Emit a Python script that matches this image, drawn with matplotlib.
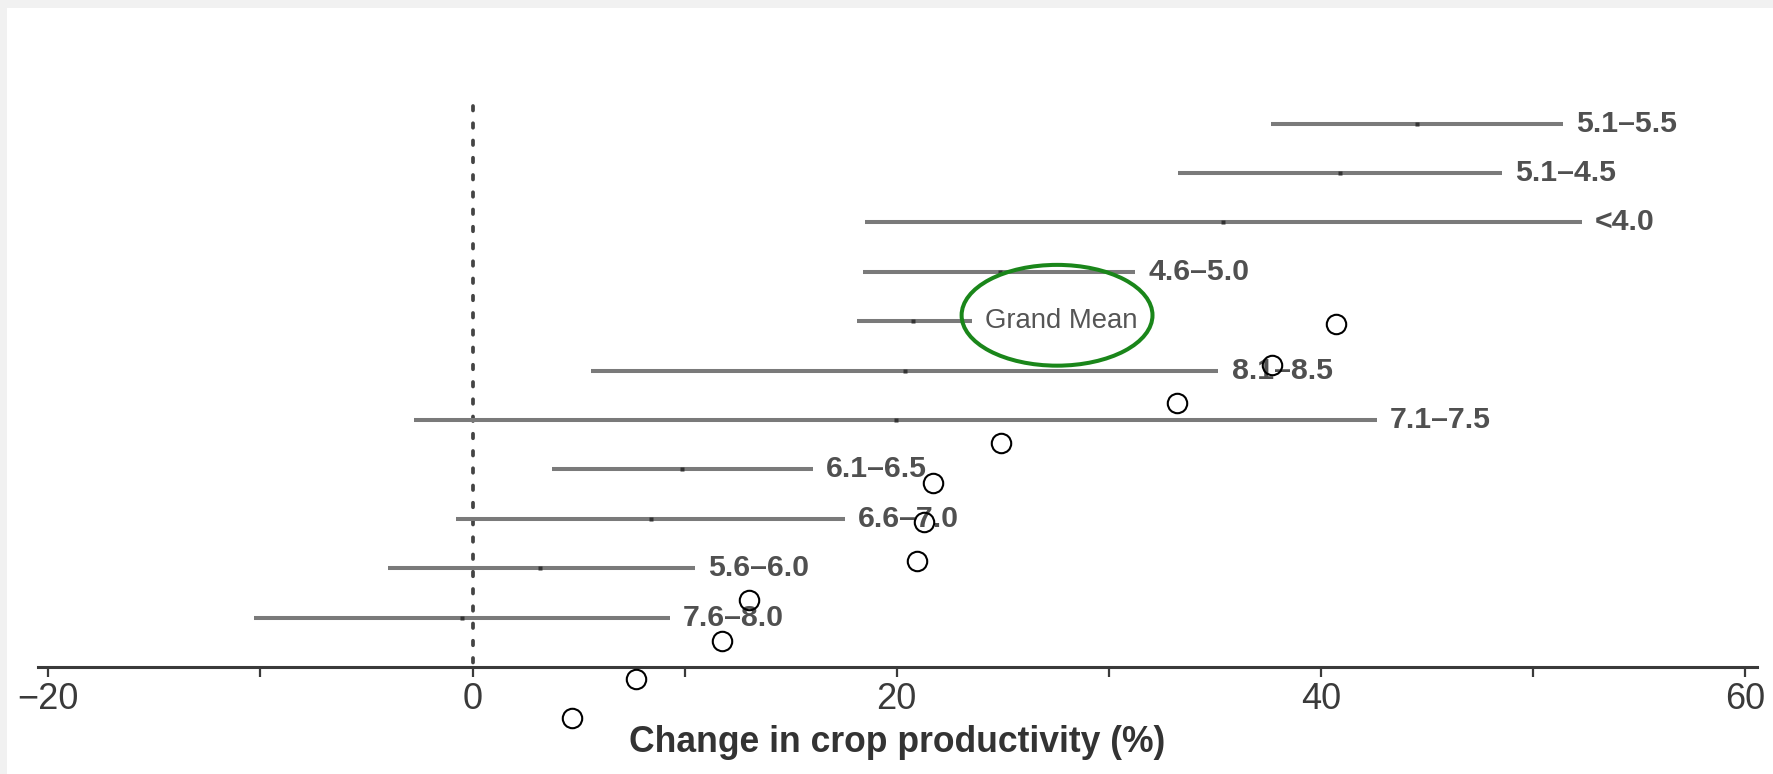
import matplotlib
matplotlib.use("Agg")
import matplotlib.pyplot as plt
from matplotlib.patches import Ellipse, Rectangle

# rows from top to bottom
labels = ["5.1–5.5", "5.1–4.5", "<4.0", "4.6–5.0", "Grand Mean", "8.1–8.5",
          "7.1–7.5", "6.1–6.5", "6.6–7.0", "5.6–6.0", "7.6–8.0"]
ci_low = [37.65, 33.25, 18.5, 18.43, 18.11, 5.6, -2.77, 3.75, -0.78, -3.98, -10.28]
ci_high = [51.4, 48.52, 52.3, 31.24, 23.54, 35.17, 42.63, 16.05, 17.56, 10.49, 9.31]
means = [44.55, 40.9, 35.37, 24.87, 20.78, 20.39, 19.97, 9.9, 8.42, 3.18, -0.51]
rows = [11, 10, 9, 8, 7, 6, 5, 4, 3, 2, 1]

# open circles drawn over the plot
circ_x = [40.70, 37.68, 33.20, 24.92, 21.73, 21.30, 20.96, 13.02, 11.76, 7.69, 4.71]
circ_y = [6.94, 6.11, 5.34, 4.54, 3.73, 2.94, 2.15, 1.36, 0.53, -0.25, -1.03]

xticks = [-20, -10, 0, 10, 20, 30, 40, 50, 60]
xticklabels = ["−20", "", "0", "", "20", "", "40", "", "60"]

W, H = 1773, 774
plt.rcParams["font.family"] = ["Liberation Sans", "DejaVu Sans"]
fig = plt.figure(figsize=(W / 100, H / 100), dpi=100)
fig.patch.set_facecolor("#f1f1f1")
fig.patches.append(Rectangle((7 / W, 0), 1, (H - 8) / H, transform=fig.transFigure,
                             facecolor="white", edgecolor="none", zorder=-10))

# axes placed in pixels: x=0 at 472.5 px, 21.21 px per unit; y=0 at 667 px, 49.4 px per row
x0, y0 = -20.5, 0.0
x1, y1 = 60.55, 11.6
left = 472.5 + x0 * 21.21
ax = fig.add_axes([left / W, (H - 667) / H, (x1 - x0) * 21.21 / W, y1 * 49.4 / H])
ax.set_facecolor("none")
ax.set_xlim(x0, x1)
ax.set_ylim(y0, y1)

# dotted zero line, drawn top-down so the pattern starts at the top
ax.plot([0, 0], [11.35, 0], color="#444444", lw=2.7, linestyle=(0, (1.2, 3.4)),
        dash_capstyle="round")

for lo, hi, m, r, lab in zip(ci_low, ci_high, means, rows, labels):
    ax.plot([lo, hi], [r, r], color="#7a7a7a", lw=2.9, solid_capstyle="butt")
    ax.plot(m, r, "s", ms=3.2, color="#333333", mec="none")
    if lab == "Grand Mean":
        ax.annotate(lab, (hi, r), xytext=(9.5, 0), textcoords="offset points",
                    va="center", ha="left", fontsize=19.8, color="#555555")
    else:
        ax.annotate(lab, (hi, r), xytext=(9.5, 0), textcoords="offset points",
                    va="center", ha="left", fontsize=21.8, fontweight="bold",
                    color="#505050")

ax.add_patch(Ellipse((27.56, 7.12), 9.0, 2.04, fill=False, ec="#1a861a", lw=2.9,
                     zorder=5))

ax.plot(circ_x, circ_y, "o", ms=14, mfc="none", mec="black", mew=1.5,
        clip_on=False, zorder=6)

for s in ["left", "right", "top"]:
    ax.spines[s].set_visible(False)
ax.spines["bottom"].set_color("#3a3a3a")
ax.spines["bottom"].set_linewidth(2.2)
ax.set_yticks([])
ax.set_xticks(xticks)
ax.set_xticklabels(xticklabels)
ax.tick_params(axis="x", direction="out", length=7, width=1.6, color="#3a3a3a",
               pad=3.5, labelsize=26, labelcolor="#3a3a3a")

fig.text((472.5 + 20 * 21.21) / W, 22 / H, "Change in crop productivity (%)",
         ha="center", va="baseline", fontsize=25.6, fontweight="bold", color="#333333")

fig.savefig("out.png", dpi=100, facecolor=fig.get_facecolor())
